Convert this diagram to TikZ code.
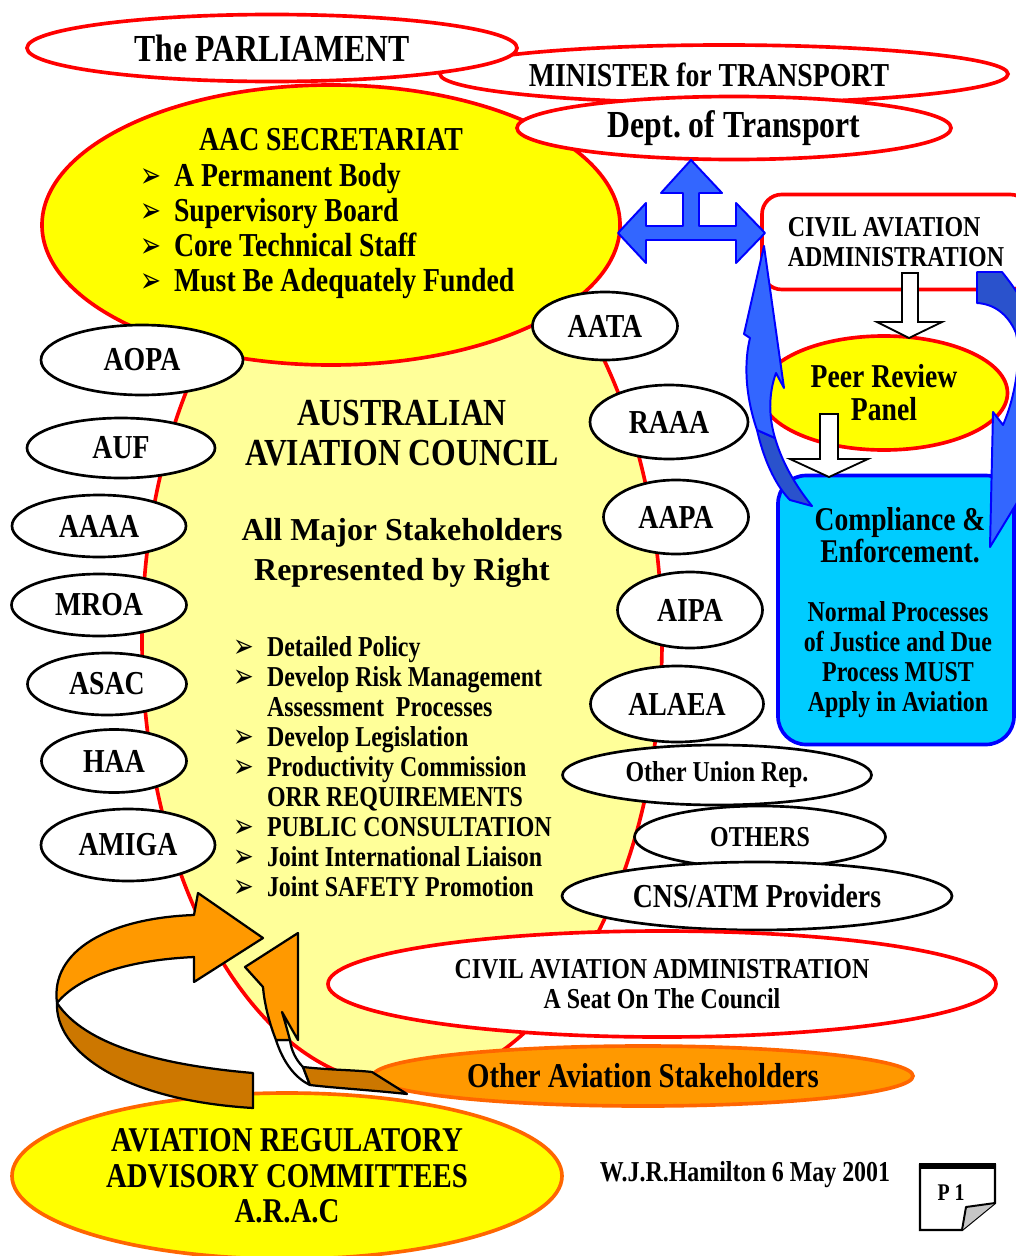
\documentclass[tikz,border=0pt]{standalone}
\usepackage{fontspec}
\usepackage{graphicx}
\setmainfont{Liberation Serif}[FakeStretch=0.83]
\newfontfamily\plainserif{Liberation Serif}
\newfontfamily\dingfont{DejaVu Sans}
\usetikzlibrary{shapes.geometric}
\frenchspacing

\definecolor{councilyellow}{HTML}{FFFF99}
\definecolor{secyellow}{HTML}{FFFF00}
\definecolor{compcyan}{HTML}{00CCFF}
\definecolor{arrowblue}{HTML}{3366FF}
\definecolor{arrowbluedark}{HTML}{2A52CC}
\definecolor{arroworange}{HTML}{FF9900}
\definecolor{arrowbrown}{HTML}{CC7700}
\definecolor{rimorange}{HTML}{FF6600}

\newcommand{\pxl}{0.025cm}
\newcommand{\bul}{\makebox[24pt][l]{\raisebox{-0.5pt}{\scalebox{0.85}[1.2]{\dingfont\fontsize{21}{21}\selectfont ➢}}}}
\newcommand{\bulS}{\makebox[24pt][l]{\raisebox{-0.5pt}{\scalebox{0.9}[1.2]{\dingfont\fontsize{19.5}{19.5}\selectfont ➢}}}}

\begin{document}
\begin{tikzpicture}[x=0.025cm, y=-0.025cm,
every node/.style={inner sep=0pt},
txtS/.style={font=\bfseries\fontsize{20.5}{21.3}\selectfont},
txtM/.style={font=\bfseries\fontsize{23.8}{24.8}\selectfont},
txtL/.style={font=\bfseries\fontsize{24.7}{25.2}\selectfont},
txtXL/.style={font=\bfseries\fontsize{27.2}{28.3}\selectfont},
redoval/.style 2 args={ellipse, draw=red, line width=2.6pt, minimum width=#1*\pxl, minimum height=#2*\pxl},
blackoval/.style 2 args={ellipse, draw=black, fill=white, line width=1.9pt, minimum width=#1*\pxl, minimum height=#2*\pxl, txtM},
rimoval/.style 2 args={ellipse, draw=rimorange, line width=2.6pt, minimum width=#1*\pxl, minimum height=#2*\pxl},
bluearrow/.style={fill=arrowblue, draw=blue, line width=1.4pt, line join=round},
bluedarkarrow/.style={fill=arrowbluedark, draw=blue, line width=1.4pt, line join=round},
whitearrow/.style={fill=white, draw=black, line width=1.3pt},
orangearrow/.style={draw=black, line width=1.6pt, line join=round}]

\useasboundingbox (0,0) rectangle (1016,1256);
\clip (0,0) rectangle (1016,1256);
\fill[white] (0,0) rectangle (1016,1256);

% council
\node[redoval={520}{890}, fill=councilyellow] (council) at (402,640) {};

% government
\node[redoval={568}{58}, fill=white] (minister) at (724,74) {};
\node[txtM] (ministertxt) at (709,75) {MINISTER for TRANSPORT};
\node[redoval={490}{67}, fill=white, txtXL] (parliament) at (272,48) {The PARLIAMENT};
\node[redoval={578}{280}, fill=secyellow] (secretariat) at (331,225) {};
\node[txtM] (sectitle) at (331,140) {AAC SECRETARIAT};
\node[txtM, align=left, anchor=west] (seclist) at (140,231) {\bul A Permanent Body\\\bul Supervisory Board\\\bul Core Technical Staff\\\bul Must Be Adequately Funded};
\node[redoval={434}{63}, fill=white, font=\bfseries\fontsize{27.2}{28}\selectfont] (dept) at (734,128) {Dept. of Transport};

% council text
\node[txtXL, align=center] (aactitle) at (402,433) {AUSTRALIAN\\AVIATION COUNCIL};
\node[font=\plainserif\bfseries\fontsize{22.7}{28.3}\selectfont, align=center] (stake) at (402,553) {All Major Stakeholders\\Represented by Right};
\node[txtS, align=left, anchor=west] (aaclist) at (233,767) {\bulS Detailed Policy\\\bulS Develop Risk Management\\\hspace*{24pt}Assessment~ Processes\\\bulS Develop Legislation\\\bulS Productivity Commission\\\hspace*{24pt}ORR REQUIREMENTS\\\bulS PUBLIC CONSULTATION\\\bulS Joint International Liaison\\\bulS Joint SAFETY Promotion};

% members left
\node[blackoval={202}{70}] (aopa) at (142,360) {AOPA};
\node[blackoval={188}{60}] (auf) at (121,448) {AUF};
\node[blackoval={174}{62}] (aaaa) at (99,526) {AAAA};
\node[blackoval={175}{62}] (mroa) at (99,605) {MROA};
\node[blackoval={159}{62}] (asac) at (107,684) {ASAC};
\node[blackoval={145}{63}] (haa) at (114,761) {HAA};
\node[blackoval={174}{72}] (amiga) at (128,845) {AMIGA};

% members right
\node[blackoval={145}{68}] (aata) at (605,326) {AATA};
\node[blackoval={158}{74}] (raaa) at (669,422) {RAAA};
\node[blackoval={145}{74}] (aapa) at (676,517) {AAPA};
\node[blackoval={145}{76}] (aipa) at (690,610) {AIPA};
\node[blackoval={173}{76}] (alaea) at (677,704) {ALAEA};
\node[blackoval={251}{62}, txtS] (others) at (760,837) {OTHERS};
\node[blackoval={309}{60}, txtS] (union) at (717,775) {Other Union Rep.};
\node[blackoval={390}{68}] (cnsatm) at (757,896) {CNS/ATM Providers};

% administration side
\node[rectangle, rounded corners=14pt, draw=red, line width=2.6pt, fill=white, minimum width=268*\pxl, minimum height=95*\pxl, txtS, align=left] (caabox) at (896,242) {CIVIL AVIATION\\ADMINISTRATION};
\node[redoval={247}{114}, fill=secyellow, font=\bfseries\fontsize{23.7}{23.4}\selectfont, align=center] (peer) at (884,393) {Peer Review\\Panel};
\node[rectangle, rounded corners=20pt, draw=blue, line width=2.6pt, fill=compcyan, minimum width=236*\pxl, minimum height=269*\pxl] (compbox) at (896,610) {};
\node[font=\bfseries\fontsize{23.6}{22.7}\selectfont, align=center] (comptitle) at (900,535) {Compliance \&\\Enforcement.};
\node[txtS, align=center] (compnote) at (898,660) {Normal Processes\\of Justice and Due\\Process MUST\\Apply in Aviation};

% blue block arrows
\draw[bluearrow] (618,233) -- (646,203) -- (646,226) -- (683,226) -- (683,193) -- (661,193) -- (691,160) -- (722,193) -- (699,193) -- (699,226) -- (736,226) -- (736,203) -- (765,233) -- (736,263) -- (736,240) -- (646,240) -- (646,263) -- cycle;
\draw[bluedarkarrow] (757,430) .. controls (765,465) and (778,488) .. (790,500) -- (812,506) .. controls (795,485) and (782,462) .. (775,438) -- cycle;
\draw[bluearrow] (757,430) .. controls (745,395) and (744,362) .. (750,338) -- (744,334) -- (764,246) -- (784,388) -- (776,373) .. controls (768,395) and (769,418) .. (775,438) -- cycle;
\draw[bluedarkarrow] (977,272) -- (1002,272) .. controls (1015,288) and (1026,305) .. (1034,325) -- (1016,333) .. controls (1008,314) and (994,304) .. (977,303) -- cycle;
\draw[bluearrow] (1034,325) .. controls (1050,360) and (1048,420) .. (1032,455) -- (1040,465) -- (990,547) -- (993,412) -- (1003,425) .. controls (1014,400) and (1022,360) .. (1016,333) -- cycle;

% white arrows
\draw[whitearrow] (902,273) -- (918,273) -- (918,322) -- (942,322) -- (909,338) -- (877,322) -- (902,322) -- cycle;
\draw[whitearrow] (820,414) -- (838,414) -- (838,459) -- (868,459) -- (829,477) -- (790,459) -- (820,459) -- cycle;

% bottom
\node[redoval={668}{106}, fill=white, txtS, align=center] (caaseat) at (662,984) {CIVIL AVIATION ADMINISTRATION\\A Seat On The Council};
\node[rimoval={550}{166}, fill=secyellow, txtL, align=center] (arac) at (287,1176) {AVIATION REGULATORY\\ADVISORY COMMITTEES\\A.R.A.C};
\node[rimoval={540}{60}, fill=arroworange, txtL] (otherstake) at (643,1076) {Other Aviation Stakeholders};

% orange curved arrows
\draw[orangearrow, fill=arrowbrown] (57,1003) .. controls (55,1050) and (120,1100) .. (253,1108) -- (253,1073) .. controls (160,1065) and (85,1045) .. (57,1003) -- cycle;
\draw[orangearrow, fill=arroworange] (57,1003) .. controls (50,950) and (110,918) .. (194,915) -- (198,893) -- (263,938) -- (194,982) -- (194,957) .. controls (130,960) and (80,975) .. (57,1003) -- cycle;
\draw[orangearrow, fill=white] (276,1040) .. controls (283,1062) and (295,1078) .. (310,1085) -- (303,1067) .. controls (296,1060) and (291,1050) .. (290,1040) -- cycle;
\draw[orangearrow, fill=arrowbrown] (303,1067) .. controls (330,1070) and (355,1070) .. (372,1072) -- (407,1094) .. controls (370,1090) and (335,1088) .. (310,1085) -- cycle;
\draw[orangearrow, fill=arroworange] (298,933) -- (298,1040) -- (282,1012) .. controls (286,1025) and (288,1033) .. (290,1040) -- (276,1040) .. controls (268,1020) and (264,1000) .. (263,987) -- (245,967) -- cycle;

% signature and page mark
\node[txtS] (sign) at (745,1175) {W.J.R.Hamilton 6 May 2001};
\draw[fill=white, line width=1.6pt] (920,1165) -- (995,1165) -- (995,1203) -- (962,1230) -- (920,1230) -- cycle;
\draw[line width=4pt] (919,1166) -- (996,1166);
\node[font=\bfseries\fontsize{17}{17}\selectfont] (pagenum) at (951,1193) {P 1};
\draw[fill=gray!45, line width=1.4pt, line join=round] (962,1230) -- (966,1207) -- (995,1203);
\end{tikzpicture}
\end{document}
